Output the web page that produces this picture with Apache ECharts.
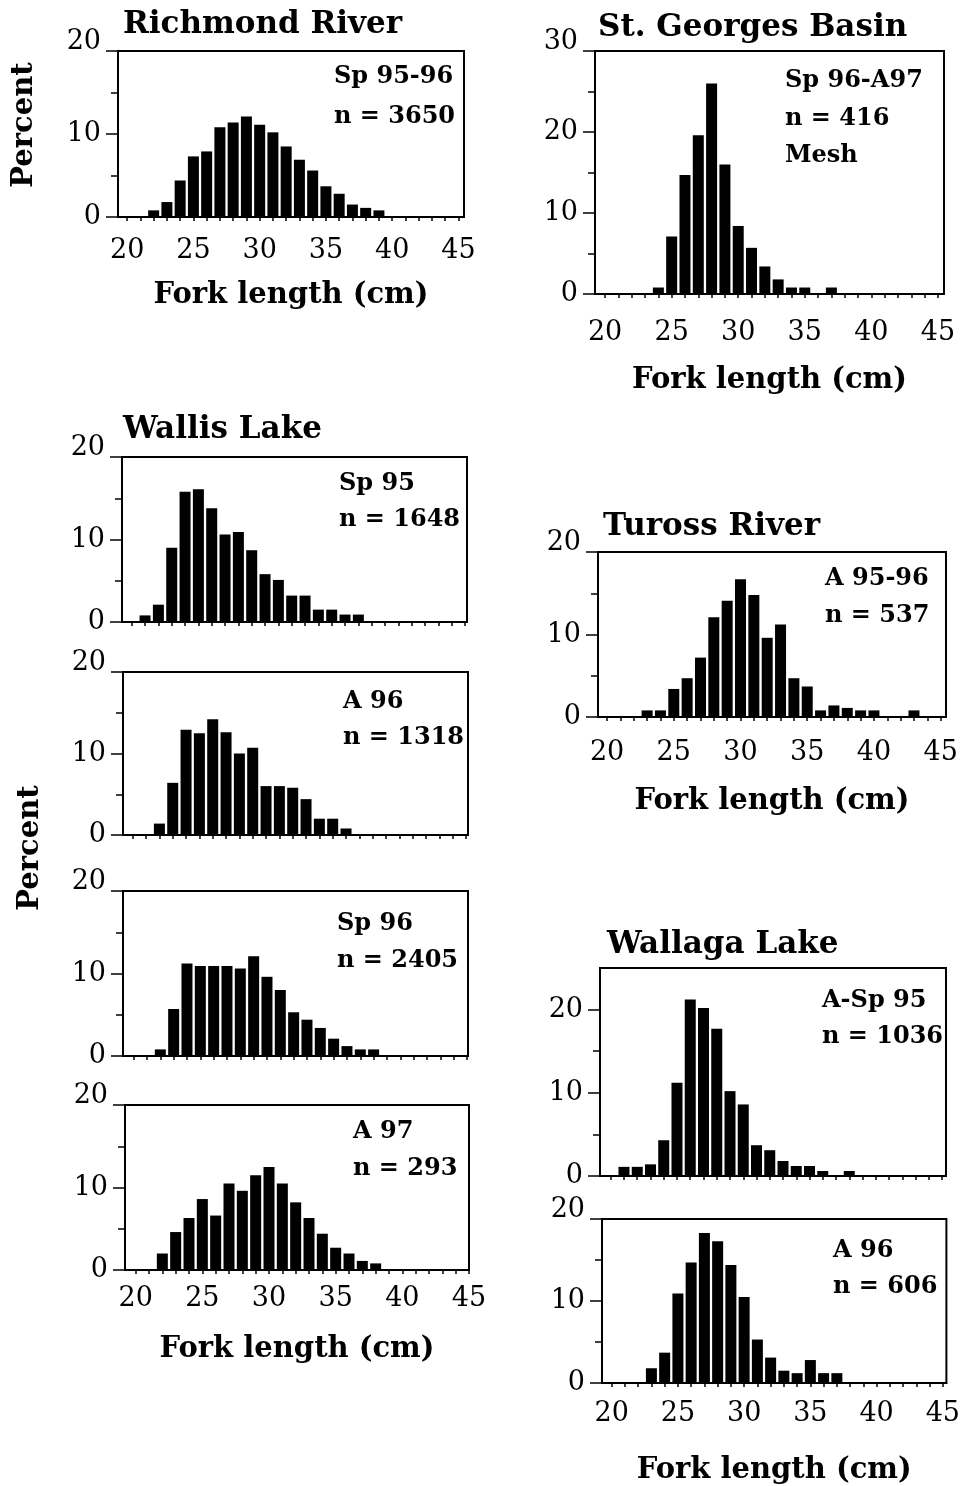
<!DOCTYPE html>
<html><head><meta charset="utf-8">
<script src="https://cdn.jsdelivr.net/npm/echarts@6/dist/echarts.min.js"></script>
<style>html,body{margin:0;padding:0;background:#fff}#c{width:963px;height:1486px}</style>
</head><body><div id="c"></div>
<script>
const FONT = 'DejaVu Serif';

// ---- data (fork length bins in cm, percent of fish) ----
const richmondLen = [22,23,24,25,26,27,28,29,30,31,32,33,34,35,36,37,38,39];
const richmondPct = [0.8,1.8,4.4,7.3,7.9,10.8,11.4,12.1,11.1,10.2,8.5,6.9,5.6,3.7,2.8,1.5,1.1,0.8];

const stGeorgesLen = [24,25,26,27,28,29,30,31,32,33,34,35,37];
const stGeorgesPct = [0.8,7.1,14.7,19.6,26.0,16.0,8.4,5.7,3.4,1.8,0.8,0.8,0.8];

const wallisSp95Len = [21,22,23,24,25,26,27,28,29,30,31,32,33,34,35,36,37];
const wallisSp95Pct = [0.8,2.1,9.0,15.8,16.1,13.8,10.6,10.9,8.7,5.8,5.1,3.2,3.2,1.5,1.5,0.9,0.9];

const wallisA96Len = [22,23,24,25,26,27,28,29,30,31,32,33,34,35,36];
const wallisA96Pct = [1.4,6.4,12.9,12.5,14.2,12.6,10.0,10.7,6.0,6.0,5.8,4.4,2.0,2.0,0.8];

const wallisSp96Len = [22,23,24,25,26,27,28,29,30,31,32,33,34,35,36,37,38];
const wallisSp96Pct = [0.8,5.7,11.2,10.9,10.9,10.9,10.6,12.1,9.6,8.0,5.3,4.4,3.4,2.1,1.2,0.8,0.8];

const wallisA97Len = [22,23,24,25,26,27,28,29,30,31,32,33,34,35,36,37,38];
const wallisA97Pct = [2.0,4.6,6.3,8.6,6.6,10.5,9.6,11.5,12.5,10.5,8.2,6.3,4.4,2.7,2.0,1.1,0.8];

const turossLen = [23,24,25,26,27,28,29,30,31,32,33,34,35,36,37,38,39,40,43];
const turossPct = [0.8,0.8,3.4,4.7,7.2,12.1,14.1,16.7,14.8,9.6,11.2,4.7,3.7,0.8,1.4,1.1,0.8,0.8,0.8];

const wallagaASp95Len = [21,22,23,24,25,26,27,28,29,30,31,32,33,34,35,36,38];
const wallagaASp95Pct = [1.1,1.1,1.4,4.3,11.2,21.2,20.2,17.7,10.2,8.6,3.7,3.1,1.8,1.2,1.2,0.6,0.6];

const wallagaA96Len = [23,24,25,26,27,28,29,30,31,32,33,34,35,36,37];
const wallagaA96Pct = [1.8,3.7,10.9,14.7,18.3,17.3,14.4,10.5,5.3,3.1,1.5,1.2,2.8,1.2,1.2];

const xTickLabels = [20,25,30,35,40,45];
const xTickMarks = [20,21,22,23,24,25,26,27,28,29,30,31,32,33,34,35,36,37,38,39,40,41,42,43,44,45];
const yLabels20 = [0,10,20];
const yMinor20 = [5,15];
const yLabels30 = [0,10,20,30];
const yMinor30 = [5,15,25];

const xTitle = 'Fork length (cm)';
const yTitle = 'Percent';

// ---- layout of the panels ----
const panels = [
  {len:richmondLen, pct:richmondPct, left:118, top:51, width:346, height:166, xMin:19.31, xMax:45.42, yMax:20, yL:yLabels20, yM:yMinor20, xLab:true, margin:20, gap:64},
  {len:stGeorgesLen, pct:stGeorgesPct, left:595, top:51, width:349, height:243, xMin:19.24, xMax:45.46, yMax:30, yL:yLabels30, yM:yMinor30, xLab:true, margin:25, gap:72},
  {len:wallisSp95Len, pct:wallisSp95Pct, left:122, top:457, width:345, height:165, xMin:19.27, xMax:45.15, yMax:20, yL:yLabels20, yM:yMinor20, xLab:false},
  {len:wallisA96Len, pct:wallisA96Pct, left:123, top:672, width:345, height:163, xMin:19.27, xMax:45.15, yMax:20, yL:yLabels20, yM:yMinor20, xLab:false},
  {len:wallisSp96Len, pct:wallisSp96Pct, left:123, top:891, width:345, height:165, xMin:19.2, xMax:45.08, yMax:20, yL:yLabels20, yM:yMinor20, xLab:false},
  {len:wallisA97Len, pct:wallisA97Pct, left:125, top:1105, width:344, height:165, xMin:19.2, xMax:45.0, yMax:20, yL:yLabels20, yM:yMinor20, xLab:true, margin:15, gap:65},
  {len:turossLen, pct:turossPct, left:598, top:552, width:348, height:165, xMin:19.32, xMax:45.4, yMax:20, yL:yLabels20, yM:yMinor20, xLab:true, margin:22, gap:70},
  {len:wallagaASp95Len, pct:wallagaASp95Pct, left:600, top:968, width:346, height:208, xMin:19.19, xMax:45.3, yMax:25, yL:yLabels20, yM:yMinor20, xLab:false},
  {len:wallagaA96Len, pct:wallagaA96Pct, left:602, top:1219, width:345, height:166, xMin:19.27, xMax:45.27, yMax:20, yL:yLabels20, yM:yMinor20, xLab:true, margin:17, gap:73}
];

const titles = [
  {text:'Richmond River', x:123, y:25},
  {text:'St. Georges Basin', x:598, y:28},
  {text:'Wallis Lake', x:123, y:430},
  {text:'Tuross River', x:603, y:527},
  {text:'Wallaga Lake', x:607, y:945}
];
const notes = [
  {text:'Sp 95-96\nn = 3650', x:334, y:77, lh:40},
  {text:'Sp 96-A97\nn = 416\nMesh', x:785, y:81, lh:37.5},
  {text:'Sp 95\nn = 1648', x:339, y:484, lh:36},
  {text:'A 96\nn = 1318', x:343, y:702, lh:36},
  {text:'Sp 96\nn = 2405', x:337, y:924, lh:37},
  {text:'A 97\nn = 293', x:353, y:1132, lh:37},
  {text:'A 95-96\nn = 537', x:825, y:579, lh:37},
  {text:'A-Sp 95\nn = 1036', x:822, y:1001, lh:36},
  {text:'A 96\nn = 606', x:833, y:1251, lh:36}
];
const yTitles = [{x:24, y:125}, {x:30, y:848}];

// ---- build option ----
const grid = [], xAxis = [], yAxis = [], series = [];
panels.forEach((p, i) => {
  grid.push({left:p.left, top:p.top, width:p.width, height:p.height, show:true,
    borderColor:'#000', borderWidth:2, backgroundColor:'transparent', containLabel:false});
  xAxis.push({
    type:'value', gridIndex:i, min:p.xMin, max:p.xMax,
    axisLine:{show:true, onZero:false, lineStyle:{color:'#000', width:2}},
    axisTick:{show:true, customValues:xTickMarks, length:4, lineStyle:{color:'#000', width:1.5}},
    splitLine:{show:false},
    axisLabel:{show:p.xLab, customValues:xTickLabels, margin:p.margin || 8,
      fontFamily:FONT, fontSize:27, color:'#000'},
    name:p.xLab ? xTitle : '', nameLocation:'middle', nameGap:p.gap || 0,
    nameTextStyle:{fontFamily:FONT, fontSize:29, fontWeight:'bold', color:'#000', verticalAlign:'top'}
  });
  yAxis.push({
    type:'value', gridIndex:i, min:0, max:p.yMax,
    axisLine:{show:true, lineStyle:{color:'#000', width:2}},
    axisTick:{show:true, customValues:p.yL, length:12, lineStyle:{color:'#000', width:1.5}},
    splitLine:{show:false},
    axisLabel:{customValues:p.yL, margin:17, fontFamily:FONT, fontSize:27, color:'#000',
      formatter:(v) => (v === p.yMax ? '{top|' + v + '}' : String(v)),
      rich:{top:{fontFamily:FONT, fontSize:27, color:'#000', padding:[0,0,18,0]}}}
  });
  yAxis.push({
    type:'value', gridIndex:i, min:0, max:p.yMax, position:'left',
    axisLine:{show:false},
    axisTick:{show:true, customValues:p.yM, length:7, lineStyle:{color:'#000', width:1.5}},
    axisLabel:{show:false}, splitLine:{show:false}
  });
  series.push({
    type:'bar', xAxisIndex:i, yAxisIndex:2 * i, barWidth:11,
    itemStyle:{color:'#000'}, silent:true, animation:false,
    data:p.len.map((l, k) => [l, p.pct[k]])
  });
});

const graphic = [];
titles.forEach(t => graphic.push({type:'text', x:t.x, y:t.y,
  style:{text:t.text, fontFamily:FONT, fontSize:31, fontWeight:'bold', fill:'#000',
    textAlign:'left', textVerticalAlign:'middle'}}));
notes.forEach(n => graphic.push({type:'text', x:n.x, y:n.y - n.lh / 2,
  style:{text:n.text, fontFamily:FONT, fontSize:24, fontWeight:'bold', fill:'#000',
    textAlign:'left', textVerticalAlign:'top', lineHeight:n.lh}}));
yTitles.forEach(t => graphic.push({type:'text', x:t.x, y:t.y, rotation:Math.PI / 2,
  style:{text:yTitle, fontFamily:FONT, fontSize:29, fontWeight:'bold', fill:'#000',
    textAlign:'center', textVerticalAlign:'middle'}}));

const chart = echarts.init(document.getElementById('c'), null, {renderer:'canvas'});
chart.setOption({animation:false, backgroundColor:'#fff', grid, xAxis, yAxis, series, graphic});
</script></body></html>
